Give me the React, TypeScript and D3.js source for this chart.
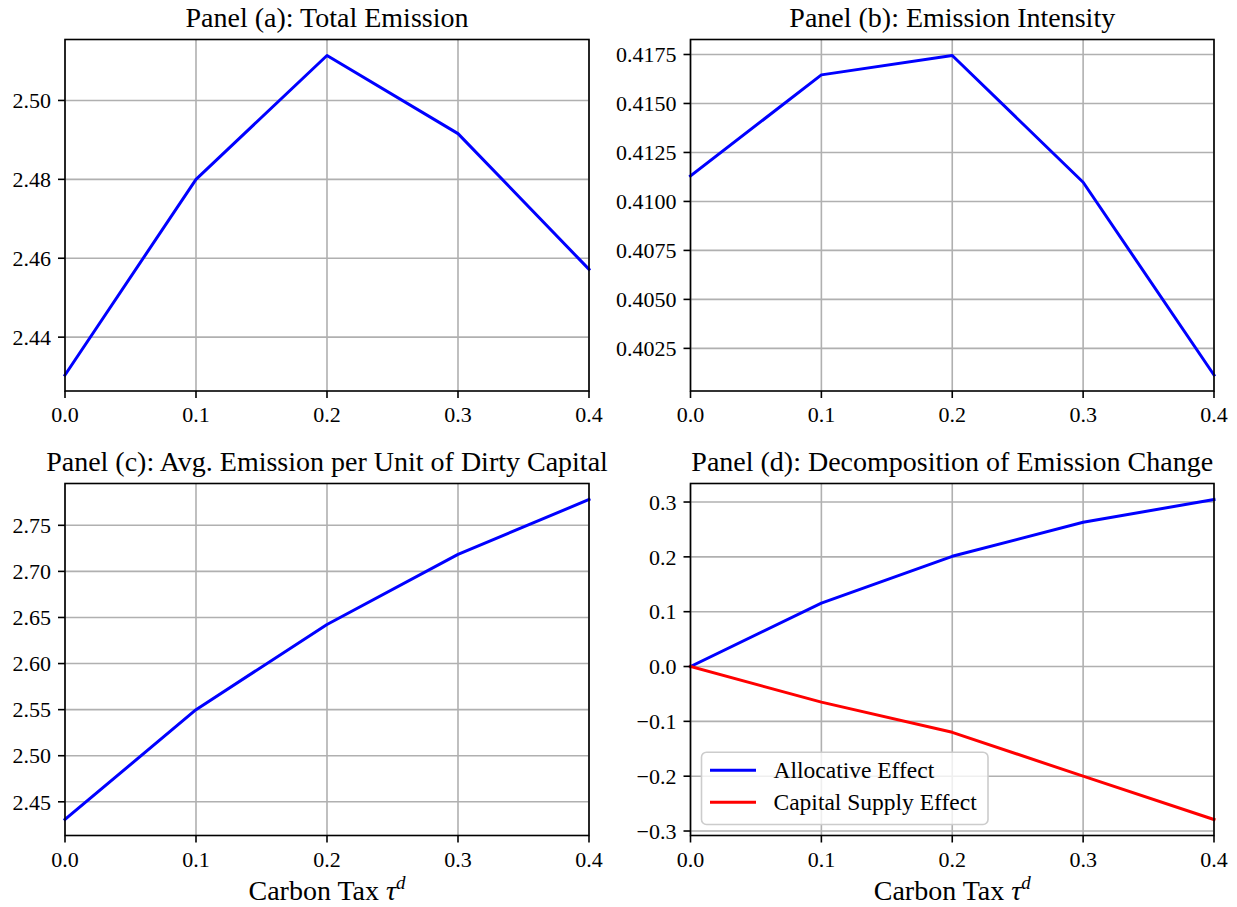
import React from "react";
import * as d3 from "d3";

// ---------- data ----------
const taxRates = [0.0, 0.1, 0.2, 0.3, 0.4];
const xTicks = [0.0, 0.1, 0.2, 0.3, 0.4];

const totalEmission = [2.4304, 2.48, 2.5114, 2.4916, 2.4572];
const totalEmissionTicks = [2.44, 2.46, 2.48, 2.5];

const emissionIntensity = [0.4113, 0.41646, 0.41745, 0.41098, 0.40114];
const emissionIntensityTicks = [0.4025, 0.405, 0.4075, 0.41, 0.4125, 0.415, 0.4175];

const avgEmissionDirty = [2.4308, 2.55, 2.6424, 2.7184, 2.778];
const avgEmissionDirtyTicks = [2.45, 2.5, 2.55, 2.6, 2.65, 2.7, 2.75];

const allocativeEffect = [0.0, 0.1157, 0.201, 0.263, 0.3046];
const capitalSupplyEffect = [0.0, -0.065, -0.12, -0.2, -0.279];
const decompositionTicks = [-0.3, -0.2, -0.1, 0.0, 0.1, 0.2, 0.3];

const titles = [
  "Panel (a): Total Emission",
  "Panel (b): Emission Intensity",
  "Panel (c): Avg. Emission per Unit of Dirty Capital",
  "Panel (d): Decomposition of Emission Change",
];
const legendLabels = ["Allocative Effect", "Capital Supply Effect"];

// ---------- styling ----------
const FONT = "'Liberation Serif', 'Times New Roman', serif";
const W = 1237;
const H = 907;
const GRID = "#b0b0b0";

type Series = { values: number[]; color: string; label?: string };

interface PanelProps {
  left: number;
  top: number;
  right: number;
  bottom: number;
  title: string;
  series: Series[];
  yTicks: number[];
  yFmt: (v: number) => string;
  xLabel?: boolean;
  legend?: boolean;
}

function Panel({ left, top, right, bottom, title, series, yTicks, yFmt, xLabel, legend }: PanelProps) {
  const all = series.flatMap((s) => s.values);
  const lo = d3.min(all) as number;
  const hi = d3.max(all) as number;
  const m = (hi - lo) * 0.05;
  const x = d3.scaleLinear().domain([0, 0.4]).range([left, right]);
  const y = d3.scaleLinear().domain([lo - m, hi + m]).range([bottom, top]);
  const line = d3
    .line<number>()
    .x((_, i) => x(taxRates[i]))
    .y((d) => y(d));
  const xFmt = d3.format(".1f");
  const cx = (left + right) / 2;

  return (
    <g>
      {/* grid */}
      {xTicks.map((t) => (
        <line key={"gx" + t} x1={x(t)} x2={x(t)} y1={top} y2={bottom} stroke={GRID} strokeWidth={1.6} />
      ))}
      {yTicks.map((t) => (
        <line key={"gy" + t} x1={left} x2={right} y1={y(t)} y2={y(t)} stroke={GRID} strokeWidth={1.6} />
      ))}
      {/* data */}
      {series.map((s, i) => (
        <path key={"s" + i} d={line(s.values) || ""} fill="none" stroke={s.color} strokeWidth={3} strokeLinejoin="round" strokeLinecap="square" />
      ))}
      {/* spines */}
      <rect x={left} y={top} width={right - left} height={bottom - top} fill="none" stroke="#000" strokeWidth={1.6} />
      {/* x ticks */}
      {xTicks.map((t) => (
        <g key={"tx" + t}>
          <line x1={x(t)} x2={x(t)} y1={bottom} y2={bottom + 7} stroke="#000" strokeWidth={1.6} />
          <text x={x(t)} y={bottom + 31} textAnchor="middle" fontFamily={FONT} fontSize={22} fill="#000">
            {xFmt(t)}
          </text>
        </g>
      ))}
      {/* y ticks */}
      {yTicks.map((t) => (
        <g key={"ty" + t}>
          <line x1={left - 7} x2={left} y1={y(t)} y2={y(t)} stroke="#000" strokeWidth={1.6} />
          <text x={left - 14} y={y(t) + 7.7} textAnchor="end" fontFamily={FONT} fontSize={22} fill="#000">
            {yFmt(t)}
          </text>
        </g>
      ))}
      {/* title */}
      <text x={cx} y={top - 12.5} textAnchor="middle" fontFamily={FONT} fontSize={28} fill="#000">
        {title}
      </text>
      {xLabel && (
        <text x={cx} y={bottom + 64.5} textAnchor="middle" fontFamily={FONT} fontSize={28} fill="#000">
          Carbon Tax{" "}
          <tspan fontStyle="italic">τ</tspan>
          <tspan fontStyle="italic" fontSize={19} dy={-11}>
            d
          </tspan>
        </text>
      )}
      {legend && (
        <g>
          <rect
            x={left + 11}
            y={bottom - 11 - 72.3}
            width={286.5}
            height={72.3}
            rx={5}
            fill="#fff"
            fillOpacity={0.8}
            stroke="#cccccc"
            strokeWidth={1.6}
          />
          {series.map((s, i) => {
            const ry = bottom - 11 - 72.3 + 18 + i * 32;
            return (
              <g key={"lg" + i}>
                <line x1={left + 19.5} x2={left + 65.5} y1={ry} y2={ry} stroke={s.color} strokeWidth={3} />
                <text x={left + 83} y={ry + 7.7} fontFamily={FONT} fontSize={23.5} fill="#000">
                  {s.label}
                </text>
              </g>
            );
          })}
        </g>
      )}
    </g>
  );
}

export default function App() {
  const f2 = d3.format(".2f");
  const f4 = d3.format(".4f");
  const f1 = d3.format(".1f");
  const row1 = { top: 39.5, bottom: 391 };
  const row2 = { top: 483.5, bottom: 835.5 };
  const col1 = { left: 65, right: 589 };
  const col2 = { left: 690.5, right: 1214 };
  return (
    <svg
      width={W}
      height={H}
      viewBox={`0 0 ${W} ${H}`}
      style={{ position: "absolute", left: 0, top: 0, background: "#fff" }}
    >
      <rect width={W} height={H} fill="#fff" />
      <Panel {...row1} {...col1} title={titles[0]} series={[{ values: totalEmission, color: "#0000ff" }]} yTicks={totalEmissionTicks} yFmt={f2} />
      <Panel {...row1} {...col2} title={titles[1]} series={[{ values: emissionIntensity, color: "#0000ff" }]} yTicks={emissionIntensityTicks} yFmt={f4} />
      <Panel {...row2} {...col1} title={titles[2]} series={[{ values: avgEmissionDirty, color: "#0000ff" }]} yTicks={avgEmissionDirtyTicks} yFmt={f2} xLabel />
      <Panel
        {...row2}
        {...col2}
        title={titles[3]}
        series={[
          { values: allocativeEffect, color: "#0000ff", label: legendLabels[0] },
          { values: capitalSupplyEffect, color: "#ff0000", label: legendLabels[1] },
        ]}
        yTicks={decompositionTicks}
        yFmt={f1}
        xLabel
        legend
      />
    </svg>
  );
}
